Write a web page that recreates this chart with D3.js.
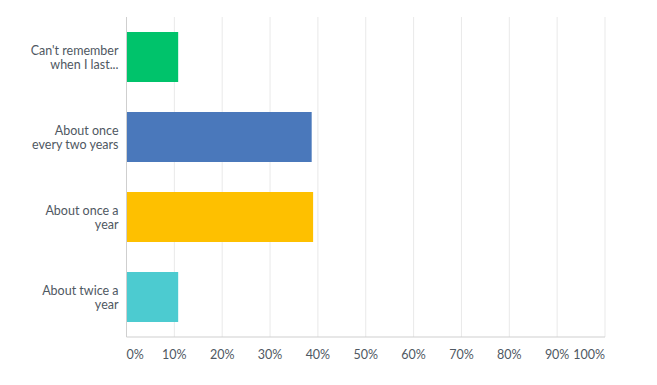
<!DOCTYPE html>
<html>
<head>
<meta charset="utf-8">
<script src="https://cdn.jsdelivr.net/npm/d3@7"></script>
<style>
  body { margin: 0; background: #fff; }
  text { font-family: Lato, "Open Sans", sans-serif; }
</style>
</head>
<body>
<div id="graph"></div>
<script>
var categories = [
    ["Can't remember", "when I last..."],
    ["About once", "every two years"],
    ["About once a", "year"],
    ["About twice a", "year"]
];
var valeurs = [10.8, 38.7, 39.0, 10.8];
var couleurs = ["#00c36b", "#4a78bb", "#fec000", "#4ccbd0"];
var ticks = [0, 10, 20, 30, 40, 50, 60, 70, 80, 90, 100];

function dessin() {
    "use strict";
    var margin = {top: 17, right: 52, bottom: 48, left: 126.5},
        width = 657 - margin.left - margin.right,
        height = 385 - margin.top - margin.bottom,
        couleur_texte = "#4f5862",
        svg = d3.select("#graph")
            .append("svg")
                .attr("width", 657)
                .attr("height", 385)
            .append("g")
                .attr("transform", "translate(" + margin.left + "," + margin.top + ")"),
        x = d3.scaleLinear()
            .domain([0, 100])
            .range([0, width]),
        y = d3.scaleBand()
            .domain(d3.range(categories.length))
            .range([0, height])
            .paddingInner(0.375)
            .paddingOuter(0.1875);

    // grille verticale
    svg.selectAll(".grille")
        .data(ticks.slice(1))
        .enter()
        .append("line")
        .attr("x1", function (d) { return x(d); })
        .attr("x2", function (d) { return x(d); })
        .attr("y1", 0)
        .attr("y2", height)
        .style("stroke", "#e9e9e9")
        .style("stroke-width", 1);

    svg.selectAll(".barre")
        .data(valeurs)
        .enter()
        .append("rect")
        .attr("x", x(0))
        .attr("y", function (d, i) { return y(i); })
        .attr("width", function (d) { return x(d) - x(0); })
        .attr("height", y.bandwidth())
        .style("fill", function (d, i) { return couleurs[i]; });

    // axes
    svg.append("line")
        .attr("x1", 0).attr("x2", 0)
        .attr("y1", 0).attr("y2", height)
        .style("stroke", "#cfcfcf");
    svg.append("line")
        .attr("x1", 0).attr("x2", width)
        .attr("y1", height).attr("y2", height)
        .style("stroke", "#cfcfcf");

    svg.selectAll(".tick-label")
        .data(ticks)
        .enter()
        .append("text")
        .attr("x", function (d) { return x(d); })
        .attr("y", height + 22)
        .style("font-size", "12.5px")
        .style("fill", couleur_texte)
        .style("text-anchor", function (d, i) {
            return i === 0 ? "start" : (i === ticks.length - 1 ? "end" : "middle");
        })
        .text(function (d) { return d + "%"; });

    var libelles = svg.selectAll(".libelle")
        .data(categories)
        .enter()
        .append("text")
        .attr("x", -8)
        .attr("y", function (d, i) { return y(i) + y.bandwidth() / 2; })
        .style("font-size", "12.5px")
        .style("fill", couleur_texte)
        .style("text-anchor", "end");
    libelles.selectAll("tspan")
        .data(function (d) { return d; })
        .enter()
        .append("tspan")
        .attr("x", -8)
        .attr("dy", function (d, i) { return i === 0 ? "-0.2em" : "1.12em"; })
        .text(function (d) { return d; });
}

dessin();
</script>
</body>
</html>
